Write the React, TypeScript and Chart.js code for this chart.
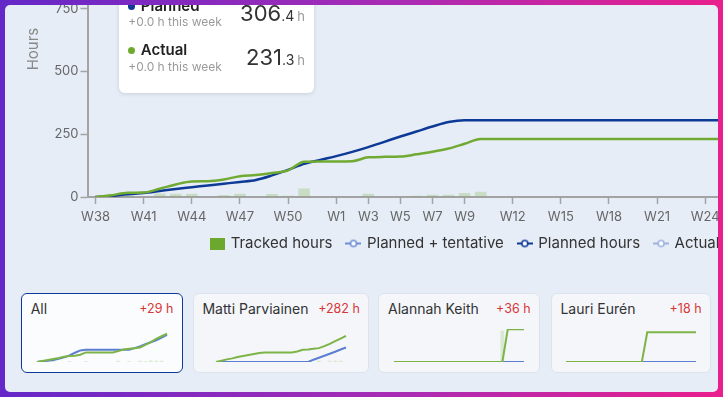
import React, { useEffect, useRef } from 'react';
import { Chart, registerables } from 'chart.js';

Chart.register(...registerables);
Chart.defaults.font.family = 'Inter, "Noto Sans", sans-serif';

// ---------- main chart data ----------
const WEEKS = [
  'W38', 'W39', 'W40', 'W41', 'W42', 'W43', 'W44', 'W45', 'W46', 'W47', 'W48', 'W49', 'W50', 'W51', 'W52',
  'W1', 'W2', 'W3', 'W4', 'W5', 'W6', 'W7', 'W8', 'W9', 'W10', 'W11', 'W12', 'W13', 'W14', 'W15',
  'W16', 'W17', 'W18', 'W19', 'W20', 'W21', 'W22', 'W23', 'W24', 'W25', 'W26', 'W27', 'W28', 'W29', 'W30',
  'W31', 'W32', 'W33', 'W34', 'W35', 'W36', 'W37', 'W38', 'W39', 'W40',
];
const TICK_LABELS = ['W38', 'W41', 'W44', 'W47', 'W50', 'W1', 'W3', 'W5', 'W7', 'W9', 'W12', 'W15', 'W18', 'W21', 'W24', 'W27', 'W30', 'W33', 'W36'];
const TICK_INDEXES = [0, 3, 6, 9, 12, 15, 17, 19, 21, 23, 26, 29, 32, 35, 38, 41, 44, 47, 50];
const Y_TITLE = 'Hours';

const TRACKED = [0, 0, 8, 0, 14, 13, 13, 0, 8, 13, 0, 12, 5, 34, 0, 0, 0, 13, 0, 0, 5, 9, 9, 16, 21,
  0, 0, 0, 0, 0, 0, 0, 0, 0, 0, 0, 0, 0, 0, 0, 0];
const PLANNED = [0, 4, 11, 16, 24, 32, 39, 46, 53, 60, 68, 86, 108, 132, 148, 163, 180, 199, 220, 241, 261, 281, 299, 306.4, 306.4,
  306.4, 306.4, 306.4, 306.4, 306.4, 306.4, 306.4, 306.4, 306.4, 306.4, 306.4, 306.4, 306.4, 306.4, 306.4, 306.4];
const ACTUAL = [0, 7, 17, 18, 33, 50, 62, 63, 70, 83, 88, 96, 106, 141, 142, 142, 143, 158, 160, 161, 170, 180, 193, 212, 231.3,
  231.3, 231.3, 231.3, 231.3, 231.3, 231.3, 231.3, 231.3, 231.3, 231.3, 231.3, 231.3, 231.3, 231.3, 231.3, 231.3];

const LEGEND_LABELS = ['Tracked hours', 'Planned + tentative', 'Planned hours', 'Actual hours'];
const LEGEND_COLORS = ['#6aa82e', '#6e8fd4', '#0d3a96', '#9fb2df'];

// ---------- mini chart data ----------
const MINI_STEPS = ['1', '2', '3', '4', '5', '6', '7', '8', '9', '10', '11', '12', '13', '14', '15', '16', '17', '18', '19', '20', '21', '22', '23', '24', '25'];

const ALL_PLANNED = [0, 2, 4, 6, 10, 14, 20, 28, 35, 37, 37, 37, 37, 37, 37, 37, 37, 37, 42, 47, 54, 60, 66, 74, 82];
const ALL_ACTUAL = [0, 3, 6, 9, 12, 16, 18, 19, 22, 29, 29, 29, 29, 29, 29, 33, 38, 40, 42, 44, 52, 60, 70, 78, 86];
const ALL_TRACKED = [0, 0, 0, 4, 0, 0, 3, 0, 0, 3, 0, 0, 0, 0, 0, 4, 0, 3, 0, 4, 3, 5, 4, 4, 0];

const MATTI_PLANNED = [0, 0, 0, 0, 0, 0, 0, 0, 0, 0, 0, 0, 0, 0, 0, 0, 0, 0, 7, 13, 19, 25, 31, 38, 44];
const MATTI_ACTUAL = [0, 4, 8, 11, 15, 18, 21, 24, 27, 29, 29, 29, 29, 29, 29, 32, 37, 38, 40, 42, 48, 55, 63, 71, 79];
const MATTI_TRACKED = [0, 0, 0, 0, 0, 0, 0, 0, 0, 0, 0, 0, 0, 0, 0, 0, 0, 0, 0, 4, 0, 4, 4, 4, 0];

const ALANNAH_PLANNED = [0, 0, 0, 0, 0, 0, 0, 0, 0, 0, 0, 0, 0, 0, 0, 0, 0, 0, 0, 0, 0, 0, 0, 0, 0];
const ALANNAH_ACTUAL = [0, 0, 0, 0, 0, 0, 0, 0, 0, 0, 0, 0, 0, 0, 0, 0, 0, 0, 0, 0, 0, 99, 99, 99, 99];
const ALANNAH_TRACKED = [0, 0, 0, 0, 0, 0, 0, 0, 0, 0, 0, 0, 0, 0, 0, 0, 0, 0, 0, 0, 95, 0, 0, 0, 0];

const LAURI_PLANNED = [0, 0, 0, 0, 0, 0, 0, 0, 0, 0, 0, 0, 0, 0, 0, 0, 0, 0, 0, 0, 0, 0, 0, 0, 0];
const LAURI_ACTUAL = [0, 0, 0, 0, 0, 0, 0, 0, 0, 0, 0, 0, 0, 0, 0, 90, 90, 90, 90, 90, 90, 90, 90, 90, 90];
const LAURI_TRACKED = [0, 0, 0, 0, 0, 0, 0, 0, 0, 0, 0, 0, 0, 0, 0, 0, 0, 0, 0, 0, 0, 0, 0, 0, 0];

const CARD_NAMES = ['All', 'Matti Parviainen', 'Alannah Keith', 'Lauri Eurén'];
const CARD_DELTAS = ['+29 h', '+282 h', '+36 h', '+18 h'];
const CARD_SERIES = [
  [ALL_PLANNED, ALL_ACTUAL, ALL_TRACKED],
  [MATTI_PLANNED, MATTI_ACTUAL, MATTI_TRACKED],
  [ALANNAH_PLANNED, ALANNAH_ACTUAL, ALANNAH_TRACKED],
  [LAURI_PLANNED, LAURI_ACTUAL, LAURI_TRACKED],
];

// ---------- summary ----------
const SUMMARY_NAMES = ['Planned', 'Actual'];
const SUMMARY_WEEK = ['+0.0 h this week', '+0.0 h this week'];
const SUMMARY_INT = ['306', '231'];
const SUMMARY_DEC = ['.4', '.3'];
const SUMMARY_COLORS = ['#0d3a96', '#6faa30'];

function makeBoxIcon(color: string) {
  const c = document.createElement('canvas');
  c.width = 15; c.height = 12;
  const g = c.getContext('2d')!;
  g.fillStyle = color;
  g.fillRect(0, 0, 15, 12);
  return c;
}
function makeLineIcon(color: string) {
  const c = document.createElement('canvas');
  c.width = 16; c.height = 10;
  const g = c.getContext('2d')!;
  g.strokeStyle = color;
  g.lineWidth = 2;
  g.beginPath(); g.moveTo(0, 5); g.lineTo(16, 5); g.stroke();
  g.beginPath(); g.arc(8, 5, 3, 0, Math.PI * 2);
  g.fillStyle = '#ffffff'; g.fill();
  g.lineWidth = 1.6; g.stroke();
  return c;
}

function MainChart() {
  const ref = useRef<HTMLCanvasElement>(null);
  useEffect(() => {
    const icons = LEGEND_COLORS.map((c, i) => (i === 0 ? makeBoxIcon(c) : makeLineIcon(c)));
    const chart = new Chart(ref.current!, {
      type: 'line',
      data: {
        labels: WEEKS,
        datasets: [
          { type: 'bar', label: 'Tracked hours', data: TRACKED, backgroundColor: 'rgba(112,170,50,0.25)', order: 3 } as any,
          { type: 'line', label: 'Planned hours', data: PLANNED, borderColor: '#0d3a96', borderWidth: 2.5, pointRadius: 0, cubicInterpolationMode: 'monotone', order: 2 },
          { type: 'line', label: 'Actual hours', data: ACTUAL, borderColor: '#70aa32', borderWidth: 2.5, pointRadius: 0, cubicInterpolationMode: 'monotone', order: 1 },
        ],
      },
      options: {
        responsive: false,
        animation: false,
        events: [],
        layout: { padding: { top: 20, left: 0, right: 0, bottom: 0 } },
        plugins: {
          tooltip: { enabled: false },
          legend: {
            position: 'bottom',
            labels: {
              usePointStyle: true,
              pointStyleWidth: 12,
              boxHeight: 12,
              padding: 15,
              color: '#333',
              font: { size: 15 },
              generateLabels: () =>
                LEGEND_LABELS.map((text, i) => ({
                  text,
                  pointStyle: icons[i] as any,
                  fillStyle: 'rgba(0,0,0,0)',
                  strokeStyle: 'rgba(0,0,0,0)',
                  lineWidth: 0,
                  hidden: false,
                  fontColor: '#333',
                  datasetIndex: i,
                })),
            },
          },
        },
        scales: {
          x: {
            offset: true,
            grid: {
              drawOnChartArea: false,
              offset: false,
              tickLength: 7,
              tickWidth: 1.5,
              tickColor: (ctx: any) => (TICK_INDEXES.includes(ctx.index) ? '#a3a3a3' : 'rgba(0,0,0,0)'),
            },
            border: { color: '#a3a3a3', width: 2 },
            ticks: {
              autoSkip: false,
              maxRotation: 0,
              color: '#666',
              font: { size: 13 },
              padding: 5,
              callback: (_v: any, i: number) => (TICK_INDEXES.includes(i) ? TICK_LABELS[TICK_INDEXES.indexOf(i)] : ''),
            },
            afterFit: (s: any) => { s.height = 24; },
          },
          y: {
            min: 0,
            max: 1180,
            grid: { drawOnChartArea: false, tickLength: 7, tickWidth: 1.5, tickColor: '#a3a3a3' },
            border: { color: '#a3a3a3', width: 2 },
            ticks: { stepSize: 250, includeBounds: false, color: '#666', font: { size: 13 }, padding: 2 },
            title: { display: true, text: Y_TITLE, color: '#888', font: { size: 15 }, padding: { top: 19, bottom: 0 } },
            afterFit: (s: any) => { s.width = 82.5; },
          },
        },
      },
    } as any);
    return () => chart.destroy();
  }, []);
  return <canvas ref={ref} width={965} height={380} style={{ position: 'absolute', left: 0, top: -124, width: 965, height: 380 }} />;
}

function MiniChart({ planned, actual, tracked }: { planned: number[]; actual: number[]; tracked: number[] }) {
  const ref = useRef<HTMLCanvasElement>(null);
  useEffect(() => {
    const chart = new Chart(ref.current!, {
      type: 'line',
      data: {
        labels: MINI_STEPS,
        datasets: [
          { type: 'bar', data: tracked, backgroundColor: 'rgba(124,180,71,0.2)', order: 3 } as any,
          { type: 'line', data: planned, borderColor: '#5b7ed1', borderWidth: 2, pointRadius: 0, tension: 0, order: 2 },
          { type: 'line', data: actual, borderColor: '#7cb447', borderWidth: 2, pointRadius: 0, tension: 0, order: 1 },
        ],
      },
      options: {
        responsive: false,
        animation: false,
        events: [],
        layout: { padding: 2 },
        plugins: { legend: { display: false }, tooltip: { enabled: false } },
        scales: {
          x: { display: false, offset: false },
          y: { display: false, min: 0, max: 100 },
        },
      },
    } as any);
    return () => chart.destroy();
  }, []);
  return <canvas ref={ref} width={134} height={37} style={{ width: 134, height: 37, display: 'block' }} />;
}

const CARD_LEFT = [16, 187.7, 373.3, 545.7];
const CARD_WIDTH = [161.7, 176.6, 161.7, 160.3];

function SummaryCard() {
  return (
    <div style={{ position: 'absolute', left: 114.3, top: -35, width: 194.7, height: 122.7, background: '#fff', borderRadius: 6, boxShadow: '0 1px 4px rgba(0,0,0,0.13)' }}>
      {SUMMARY_NAMES.map((name, i) => {
        const dy = i * 44.3;
        return (
          <React.Fragment key={name}>
            <div style={{ position: 'absolute', left: 8.7, top: 32.3 + dy, width: 7.5, height: 7.5, borderRadius: '50%', background: SUMMARY_COLORS[i] }} />
            <div style={{ position: 'absolute', left: 21.5, top: 27.8 + dy, fontSize: 15, lineHeight: '15px', fontWeight: 600, color: '#222', whiteSpace: 'nowrap' }}>{name}</div>
            <div style={{ position: 'absolute', left: 9, top: 46.4 + dy, fontSize: 12, lineHeight: '12px', color: '#9a9a9a', whiteSpace: 'nowrap' }}>{SUMMARY_WEEK[i]}</div>
            <div style={{ position: 'absolute', right: 9, top: 31.7 + dy, display: 'flex', alignItems: 'baseline', whiteSpace: 'nowrap' }}>
              <span style={{ fontSize: 22, lineHeight: '22px', color: '#333' }}>{SUMMARY_INT[i]}</span>
              <span style={{ fontSize: 14, lineHeight: '14px', color: '#333' }}>{SUMMARY_DEC[i]}</span>
              <span style={{ fontSize: 13, lineHeight: '13px', color: '#999', marginLeft: 3 }}>h</span>
            </div>
          </React.Fragment>
        );
      })}
    </div>
  );
}

export default function App() {
  return (
    <div style={{ position: 'fixed', left: 0, top: 0, width: 723, height: 397, overflow: 'hidden', fontFamily: 'Inter, "Noto Sans", sans-serif', background: 'linear-gradient(90deg, #6428c8 0%, #a92bb4 55%, #ea1f8c 100%)' }}>
      <div style={{ position: 'absolute', left: 5, top: 5, width: 713, height: 387, background: '#e7edf7', borderRadius: 5, overflow: 'hidden' }}>
        <MainChart />
        <SummaryCard />
        {CARD_NAMES.map((name, i) => {
          const active = i === 0;
          const w = CARD_WIDTH[i];
          return (
            <div key={name} style={{ position: 'absolute', left: CARD_LEFT[i], top: 287.7, width: w, height: 80.6, boxSizing: 'border-box', borderRadius: 6, border: active ? '1px solid #0d3a96' : '1px solid #dde3ec', background: active ? '#fbfcfe' : '#f4f6fa' }}>
              <div style={{ position: 'absolute', left: 8.7, top: 8.5, fontSize: 14, lineHeight: '14px', color: '#333', whiteSpace: 'nowrap' }}>{name}</div>
              <div style={{ position: 'absolute', right: 8.4, top: 9.8, fontSize: 12.5, lineHeight: '12.5px', color: '#d93636', whiteSpace: 'nowrap' }}>{CARD_DELTAS[i]}</div>
              <div style={{ position: 'absolute', left: (w - 134) / 2 - 1, top: 33.6 }}>
                <MiniChart planned={CARD_SERIES[i][0]} actual={CARD_SERIES[i][1]} tracked={CARD_SERIES[i][2]} />
              </div>
            </div>
          );
        })}
      </div>
    </div>
  );
}
